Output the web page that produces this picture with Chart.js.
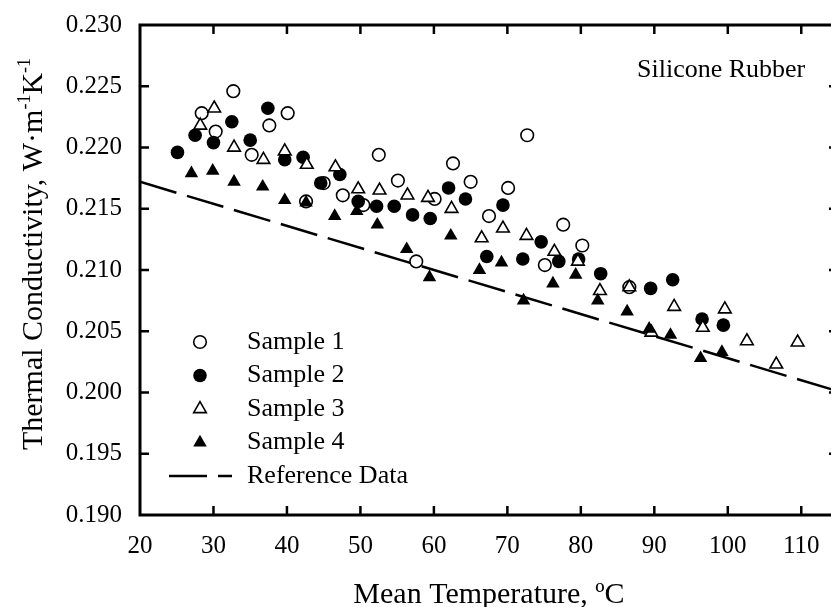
<!DOCTYPE html>
<html>
<head>
<meta charset="utf-8">
<title>Silicone Rubber thermal conductivity</title>
<script src="https://cdn.jsdelivr.net/npm/chart.js"></script>
<style>
  html, body { margin: 0; padding: 0; background: #fff; overflow: hidden; }
  #wrap { width: 831px; height: 607px; overflow: hidden; }
</style>
</head>
<body>
<div id="wrap"><canvas id="mainChart" width="850" height="607"></canvas></div>
<script>
// values: [mean temperature (ºC), conductivity (W/mK)]
const sample1 = [
  [28.4, 0.2228], [30.3, 0.2213], [32.7, 0.2246], [35.2, 0.2194], [37.6, 0.2218],
  [40.1, 0.2228], [42.6, 0.2156], [45.0, 0.2171], [47.6, 0.2161], [50.4, 0.2153],
  [52.5, 0.2194], [55.1, 0.2173], [57.6, 0.2107], [60.1, 0.2158], [62.6, 0.2187],
  [65.0, 0.2172], [67.5, 0.2144], [70.1, 0.2167], [72.7, 0.2210], [75.1, 0.2104],
  [77.6, 0.2137], [80.2, 0.2120], [86.6, 0.2086]
];
const sample2 = [
  [25.1, 0.2196], [27.5, 0.2210], [30.0, 0.2204], [32.5, 0.2221], [35.0, 0.2206],
  [37.4, 0.2232], [39.7, 0.2190], [42.2, 0.2192], [44.6, 0.2171], [47.2, 0.2178],
  [49.7, 0.2156], [52.2, 0.2152], [54.6, 0.2152], [57.1, 0.2145], [59.5, 0.2142],
  [62.0, 0.2167], [64.3, 0.2158], [67.2, 0.2111], [69.4, 0.2153], [72.1, 0.2109],
  [74.6, 0.2123], [77.0, 0.2107], [79.7, 0.2109], [82.7, 0.2097], [89.5, 0.2085],
  [92.5, 0.2092], [96.5, 0.2060], [99.4, 0.2055]
];
const sample3 = [
  [28.2, 0.2218], [30.1, 0.2232], [32.8, 0.2200], [36.8, 0.2190], [39.7, 0.2197],
  [42.7, 0.2186], [46.6, 0.2184], [49.7, 0.2166], [52.6, 0.2165], [56.4, 0.2161],
  [59.2, 0.2159], [62.4, 0.2150], [66.5, 0.2126], [69.4, 0.2134], [72.6, 0.2128],
  [76.4, 0.2115], [79.6, 0.2107], [82.6, 0.2083], [86.6, 0.2086], [89.6, 0.2049],
  [92.7, 0.2070], [96.6, 0.2053], [99.6, 0.2068], [102.6, 0.2042], [106.6, 0.2023],
  [109.5, 0.2041]
];
const sample4 = [
  [27.0, 0.2179], [29.9, 0.2181], [32.8, 0.2172], [36.7, 0.2168], [39.7, 0.2157],
  [42.6, 0.2155], [46.5, 0.2144], [49.5, 0.2148], [52.3, 0.2137], [56.3, 0.2117],
  [59.4, 0.2094], [62.3, 0.2128], [66.2, 0.2100], [69.2, 0.2106], [72.2, 0.2075],
  [76.2, 0.2089], [79.3, 0.2096], [82.3, 0.2075], [86.3, 0.2066], [89.3, 0.2052],
  [92.2, 0.2047], [96.3, 0.2028], [99.2, 0.2033]
];
const referenceData = [[20, 0.2172], [115, 0.2001]];

const xTicks = [20, 30, 40, 50, 60, 70, 80, 90, 100, 110];
const yTicks = [0.190, 0.195, 0.200, 0.205, 0.210, 0.215, 0.220, 0.225, 0.230];
const seriesNames = ['Sample 1', 'Sample 2', 'Sample 3', 'Sample 4', 'Reference Data'];

const FONT = "'Liberation Serif', 'Times New Roman', serif";

function pts(arr) {
  return arr.map(p => ({ x: p[0], y: p[1] }));
}

const markerStyles = [
  { pointStyle: 'circle', radius: 6.3, bg: '#fff', borderWidth: 1.6 },
  { pointStyle: 'circle', radius: 6.8, bg: '#000', borderWidth: 0 },
  { pointStyle: 'triangle', radius: 7.3, bg: '#fff', borderWidth: 1.6 },
  { pointStyle: 'triangle', radius: 7.8, bg: '#000', borderWidth: 0 }
];

function markerDataset(label, arr, st, order) {
  return {
    label: label,
    data: pts(arr),
    pointStyle: st.pointStyle,
    pointRadius: st.radius,
    pointBackgroundColor: st.bg,
    pointBorderColor: '#000',
    pointBorderWidth: st.borderWidth,
    showLine: false,
    order: order
  };
}

// frame, inward ticks, axis titles, note and legend
const decorations = {
  id: 'decorations',
  afterDraw(chart) {
    const ctx = chart.ctx;
    const area = chart.chartArea;
    const xs = chart.scales.x;
    const ys = chart.scales.y;
    ctx.save();
    ctx.strokeStyle = '#000';
    ctx.lineWidth = 3;
    ctx.strokeRect(area.left, area.top, area.right - area.left, area.bottom - area.top);

    ctx.lineWidth = 2.5;
    ctx.beginPath();
    xTicks.forEach(v => {
      const px = xs.getPixelForValue(v);
      if (px <= area.left + 1) return;
      ctx.moveTo(px, area.bottom);
      ctx.lineTo(px, area.bottom - 9);
      ctx.moveTo(px, area.top);
      ctx.lineTo(px, area.top + 9);
    });
    yTicks.forEach(v => {
      const py = ys.getPixelForValue(v);
      if (py <= area.top + 1 || py >= area.bottom - 1) return;
      ctx.moveTo(area.left, py);
      ctx.lineTo(area.left + 9, py);
      ctx.moveTo(area.right, py);
      ctx.lineTo(area.right - 9, py);
    });
    ctx.stroke();

    ctx.fillStyle = '#000';
    // x title
    ctx.font = '30px ' + FONT;
    ctx.textAlign = 'center';
    ctx.textBaseline = 'alphabetic';
    ctx.fillText('Mean Temperature, ºC', (area.left + area.right) / 2, 603);

    // y title with superscripts
    const parts = [
      ['Thermal Conductivity, W·m', false], ['-1', true], ['K', false], ['-1', true]
    ];
    const big = '30px ' + FONT, small = '18px ' + FONT;
    let total = 0;
    parts.forEach(p => { ctx.font = p[1] ? small : big; total += ctx.measureText(p[0]).width; });
    ctx.translate(42, 254);
    ctx.rotate(-Math.PI / 2);
    ctx.textAlign = 'left';
    let u = -total / 2;
    parts.forEach(p => {
      ctx.font = p[1] ? small : big;
      ctx.fillText(p[0], u, p[1] ? -12 : 0);
      u += ctx.measureText(p[0]).width;
    });
    ctx.setTransform(1, 0, 0, 1, 0, 0);

    // note
    ctx.font = '26px ' + FONT;
    ctx.textAlign = 'left';
    ctx.textBaseline = 'middle';
    ctx.fillText('Silicone Rubber', 637, 70);

    // legend
    const lx = 200, tx = 247, ly0 = 342, step = 33.5;
    markerStyles.forEach((st, i) => {
      const y = ly0 + i * step;
      ctx.fillStyle = st.bg;
      ctx.strokeStyle = '#000';
      ctx.lineWidth = st.borderWidth;
      Chart.helpers.drawPoint(ctx, {
        pointStyle: st.pointStyle, radius: st.radius, rotation: 0, borderWidth: st.borderWidth
      }, lx, y);
      ctx.fillStyle = '#000';
      ctx.fillText(seriesNames[i], tx, y);
    });
    const ry = ly0 + 4 * step;
    ctx.lineWidth = 2.5;
    ctx.setLineDash([38, 11]);
    ctx.beginPath();
    ctx.moveTo(169, ry);
    ctx.lineTo(232, ry);
    ctx.stroke();
    ctx.setLineDash([]);
    ctx.fillText(seriesNames[4], tx, ry);
    ctx.restore();
  }
};

new Chart(document.getElementById('mainChart'), {
  type: 'scatter',
  data: {
    datasets: [
      markerDataset(seriesNames[0], sample1, markerStyles[0], 4),
      markerDataset(seriesNames[1], sample2, markerStyles[1], 3),
      markerDataset(seriesNames[2], sample3, markerStyles[2], 2),
      markerDataset(seriesNames[3], sample4, markerStyles[3], 1),
      {
        label: seriesNames[4],
        data: pts(referenceData),
        showLine: true,
        borderColor: '#000',
        borderWidth: 2.5,
        borderDash: [38, 11],
        pointRadius: 0,
        order: 5
      }
    ]
  },
  options: {
    responsive: false,
    animation: false,
    events: [],
    layout: { padding: { top: 25, right: 12, left: 0, bottom: 0 } },
    plugins: { legend: { display: false }, tooltip: { enabled: false } },
    scales: {
      x: {
        type: 'linear',
        min: 20,
        max: 115,
        afterBuildTicks: s => { s.ticks = xTicks.map(v => ({ value: v })); },
        afterFit: s => { s.height = 92; s.paddingLeft = 0; s.paddingRight = 0; },
        grid: { display: false, drawTicks: false },
        border: { display: false },
        ticks: {
          padding: 16,
          color: '#000',
          font: { family: FONT, size: 25 },
          maxRotation: 0,
          autoSkip: false
        }
      },
      y: {
        min: 0.19,
        max: 0.23,
        afterBuildTicks: s => { s.ticks = yTicks.map(v => ({ value: v })); },
        afterFit: s => { s.width = 140; s.paddingTop = 0; s.paddingBottom = 0; },
        grid: { display: false, drawTicks: false },
        border: { display: false },
        ticks: {
          padding: 18,
          color: '#000',
          font: { family: FONT, size: 25 },
          callback: v => Number(v).toFixed(3)
        }
      }
    }
  },
  plugins: [decorations]
});
</script>
</body>
</html>
